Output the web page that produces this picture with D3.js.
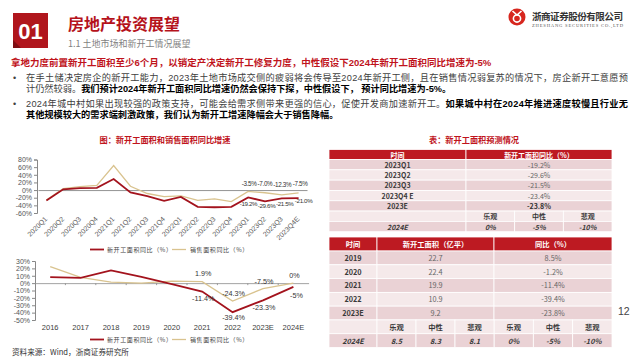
<!DOCTYPE html>
<html><head><meta charset="utf-8">
<script src="https://cdnjs.cloudflare.com/ajax/libs/d3/7.8.5/d3.min.js"></script>
<style>
html,body{margin:0;padding:0;background:#fff;}
svg{display:block;font-family:"Noto Sans CJK SC","Noto Sans",sans-serif;}
</style></head>
<body><svg id="c" width="640" height="360"></svg>
<script>
// ---------- data ----------
const quarters = ["2020Q1","2020Q2","2020Q3","2020Q4","2021Q1","2021Q2","2021Q3","2021Q4","2022Q1","2022Q2","2022Q3","2022Q4","2023Q1","2023Q2","2023Q3","2023Q4E"];
const qStarts = [-27.2,2,5,6,29,-6,-16,-28,-18,-44,-45,-44,-19.2,-29.6,-21.5,-21.0];
const qSales  = [-26.3,4,9,12,64,10,-9,-17,-15,-27,-23,-30,-3.5,-7.0,-12.3,-7.5];
const qTicks = [-60,-40,-20,0,20,40,60,80];

const years = ["2016","2017","2018","2019","2020","2021","2022","2023E","2024E"];
const yStarts = [8.1,7.0,17.2,8.5,-1.2,-11.4,-39.4,-23.3,-5];
const ySales  = [22.5,7.7,1.3,-0.1,2.6,1.9,-24.3,-7.5,0];
const yTicks = [-50,-40,-30,-20,-10,0,10,20,30];

const seriesNames = ["新开工面积同比（%）","销售面积同比（%）"];

const t1Times = ["2023Q1","2023Q2","2023Q3","2023Q4 E","2023E"];
const t1Values = ["-19.2%","-29.6%","-21.5%","-23.4%","-23.8%"];
const scenarios = ["乐观","中性","悲观"];
const t1Forecast = ["0%","-5%","-10%"];

const t2Years = ["2019","2020","2021","2022","2023E"];
const t2Area = ["22.7","22.4","19.9","10.9","9.2"];
const t2Yoy = ["8.5%","-1.2%","-11.4%","-39.4%","-23.8%"];
const t2AreaForecast = ["8.5","8.3","8.1"];
const t2YoyForecast = ["0%","-5%","-10%"];

// ---------- styles ----------
const DARKRED = "#a3131d", TAN = "#d9c38f";
const HDR = "#bd1a22", PINK1 = "#ead2d5", PINK2 = "#f5e9ea";
const NUM = "'Liberation Sans',Arial,sans-serif";
const MIX = "'Liberation Sans','Noto Sans CJK SC',sans-serif";
const svg = d3.select("#c");

// ---------- header ----------
svg.append("rect").attr("x",13).attr("y",13).attr("width",35).attr("height",35).attr("fill","#b0161d");
svg.append("path").attr("d","M13,40 L13,48 L21,48 Z").attr("fill","#7f0d12");
svg.append("text").attr("x",30.5).attr("y",38.5).attr("text-anchor","middle").attr("fill","#fff")
  .attr("font-family",NUM).attr("font-weight","bold").attr("font-size",22).text("01");
svg.append("text").attr("x",68).attr("y",30).attr("fill","#b5121b").attr("font-weight","bold").attr("font-size",16).text("房地产投资展望");
svg.append("text").attr("x",68).attr("y",46.5).attr("fill","#7f7f7f").attr("font-size",9).text("1.1  土地市场和新开工情况展望");

// logo
svg.append("circle").attr("cx",517).attr("cy",17).attr("r",8.5).attr("fill","#d7261e");
svg.append("circle").attr("cx",517).attr("cy",18.5).attr("r",3.6).attr("fill","none").attr("stroke","#fff").attr("stroke-width",1.6);
svg.append("path").attr("d","M512.5,11 L517,15 L521.5,11").attr("fill","none").attr("stroke","#fff").attr("stroke-width",1.6);
svg.append("text").attr("x",532).attr("y",20).attr("fill","#333").attr("font-weight","bold").attr("font-size",9.6).attr("textLength",91).text("浙商证券股份有限公司");
svg.append("text").attr("x",532).attr("y",27).attr("fill","#555").attr("font-family","'Liberation Serif',serif").attr("font-size",4.6).attr("textLength",91).text("ZHESHANG SECURITIES CO.,LTD");

// headline + bullets
svg.append("text").attr("x",11).attr("y",65.5).attr("fill","#c0141c").attr("font-family",MIX).attr("font-weight","bold").attr("font-size",9.5)
  .text("拿地力度前置新开工面积至少6个月，以销定产决定新开工修复力度，中性假设下2024年新开工面积同比增速为-5%");

const bullets = [
  {y:80.5, just:true, parts:[["在手土储决定房企的新开工能力，2023年土地市场成交侧的疲弱将会传导至2024年新开工侧，且在销售情况弱复苏的情况下，房企新开工意愿预",false]]},
  {y:91.5, just:false, parts:[["计仍然较弱。",false],["我们预计2024年新开工面积同比增速仍然会保持下探，中性假设下， 预计同比增速为-5%。",true]]},
  {y:107, just:true, parts:[["2024年城中村如果出现较强的政策支持，可能会给需求侧带来更强的信心，促使开发商加速新开工。",false],["如果城中村在2024年推进速度较慢且行业无",true]]},
  {y:118, just:false, parts:[["其他规模较大的需求端刺激政策，我们认为新开工增速降幅会大于销售降幅。",true]]}
];
[80.5,107].forEach(y=>svg.append("text").attr("x",13).attr("y",y).attr("font-family",NUM).attr("font-size",9).attr("fill","#404040").text("•"));
bullets.forEach(b=>{
  const nodes = b.parts.map(p=>svg.append("text").attr("y",b.y).attr("font-family",MIX).attr("font-size",9.2)
      .attr("fill",p[1]?"#000":"#404040").attr("font-weight",p[1]?"bold":"normal").text(p[0]));
  const widths = nodes.map(n=>n.node().getComputedTextLength());
  const nChars = b.parts.reduce((a,p)=>a+p[0].length,0);
  const total = d3.sum(widths);
  const ls = b.just ? (602-total)/(nChars-1) : 0;
  let x = 26;
  nodes.forEach((n,k)=>{
    n.attr("x",x).attr("letter-spacing",ls);
    x += widths[k] + ls*b.parts[k][0].length;
  });
});

// ---------- top chart ----------
svg.append("text").attr("x",165).attr("y",143).attr("text-anchor","middle").attr("fill","#c0141c")
  .attr("font-weight","bold").attr("font-size",8.2).text("图：新开工面积和销售面积同比增速");

const xq = d3.scaleBand().domain(quarters).range([38,307]);
const yq = d3.scaleLinear().domain([-60,80]).range([213,159.5]);
const cq = d => xq(d)+xq.bandwidth()/2;

const gy1 = svg.append("g").attr("transform","translate(37,0)")
  .call(d3.axisLeft(yq).tickValues(qTicks).tickSize(3).tickFormat(d=>d+"%"));
gy1.select(".domain").attr("stroke","#888");
gy1.selectAll(".tick line").attr("stroke","#888");
gy1.selectAll("text").attr("font-family",NUM).attr("font-size",7).attr("fill","#555").attr("dx",1);

const gx1 = svg.append("g").attr("transform",`translate(0,${yq(0)})`)
  .call(d3.axisBottom(xq).tickSize(0).tickFormat(""));
gx1.select(".domain").attr("stroke","#777").attr("stroke-width",0.8);
svg.append("g").selectAll("text").data(quarters).join("text")
  .attr("transform",d=>`translate(${cq(d)-1},217) rotate(-45)`)
  .attr("text-anchor","end").attr("dy","0.5em").attr("font-family",NUM).attr("font-size",7).attr("fill","#595959").text(d=>d);

const lineQ = arr => d3.line().x((d,i)=>cq(quarters[i])).y(d=>yq(d))(arr);
svg.append("path").attr("d",lineQ(qSales)).attr("fill","none").attr("stroke",TAN).attr("stroke-width",1.3);
svg.append("path").attr("d",lineQ(qStarts)).attr("fill","none").attr("stroke",DARKRED).attr("stroke-width",1.8);

const lblIdx = [12,13,14,15];
const topDx = [1,0,0.5,1.5], topDy = [5.2,6.5,8,6.8];
const botDx = [0.3,1.6,3,5], botDy = [9,7,8,5];
svg.append("g").selectAll("text").data(lblIdx).join("text")
  .attr("x",(i,k)=>cq(quarters[i])+topDx[k]).attr("y",(i,k)=>yq(qSales[i])-topDy[k]).attr("text-anchor","middle")
  .attr("font-family",NUM).attr("font-size",6.3).attr("letter-spacing",-0.35).attr("fill","#333").text(i=>qSales[i].toFixed(1)+"%");
svg.append("g").selectAll("text").data(lblIdx).join("text")
  .attr("x",(i,k)=>cq(quarters[i])+botDx[k]).attr("y",(i,k)=>yq(qStarts[i])+botDy[k]).attr("text-anchor","middle")
  .attr("font-family",NUM).attr("font-size",6.2).attr("letter-spacing",-0.35).attr("fill","#333").text(i=>qStarts[i].toFixed(1)+"%");

// legends
function legend(y){
  const g = svg.append("g");
  g.append("line").attr("x1",90).attr("x2",104).attr("y1",y).attr("y2",y).attr("stroke",DARKRED).attr("stroke-width",1.8);
  g.append("text").attr("x",107).attr("y",y+2.2).attr("font-size",6).attr("letter-spacing",0.6).attr("fill","#444").text(seriesNames[0]);
  g.append("line").attr("x1",172).attr("x2",186).attr("y1",y).attr("y2",y).attr("stroke",TAN).attr("stroke-width",1.3);
  g.append("text").attr("x",190).attr("y",y+2.2).attr("font-size",6).attr("letter-spacing",0.6).attr("fill","#444").text(seriesNames[1]);
}
legend(249.5);

// ---------- bottom chart ----------
const xy = d3.scaleBand().domain(years).range([35,308.6]);
const yy = d3.scaleLinear().domain([-50,30]).range([320,261]);
const cy = d => xy(d)+xy.bandwidth()/2;

const gy2 = svg.append("g").attr("transform","translate(35,0)")
  .call(d3.axisLeft(yy).tickValues(yTicks).tickSize(3).tickFormat(d=>d+"%"));
gy2.select(".domain").attr("stroke","#888");
gy2.selectAll(".tick line").attr("stroke","#888");
gy2.selectAll("text").attr("font-family",NUM).attr("font-size",7).attr("fill","#555").attr("dx",1);

const gx2 = svg.append("g").attr("transform",`translate(0,${yy(0)})`)
  .call(d3.axisBottom(xy).tickSize(0).tickFormat(""));
gx2.select(".domain").attr("stroke","#999").attr("stroke-width",0.9);
svg.append("g").selectAll("line").data(years.slice(1)).join("line")
  .attr("x1",d=>xy(d)).attr("x2",d=>xy(d)).attr("y1",yy(0)).attr("y2",yy(0)+2).attr("stroke","#999");
svg.append("g").selectAll("text").data(years).join("text")
  .attr("x",d=>cy(d)).attr("y",330).attr("text-anchor","middle").attr("font-family",NUM)
  .attr("font-size",7.5).attr("fill","#404040").text(d=>d);

const lineY = arr => d3.line().x((d,i)=>cy(years[i])).y(d=>yy(d))(arr);
svg.append("path").attr("d",lineY(ySales)).attr("fill","none").attr("stroke",TAN).attr("stroke-width",1.3);
svg.append("path").attr("d",lineY(yStarts)).attr("fill","none").attr("stroke",DARKRED).attr("stroke-width",1.8);

const fmt = v => (Number.isInteger(v)?v:v.toFixed(1))+"%";
const bSalesIdx = [5,6,7,8];
svg.append("g").selectAll("text").data(bSalesIdx).join("text")
  .attr("x",i=>cy(years[i])+1).attr("y",i=>yy(ySales[i])-(i===5?5.5:5))
  .attr("text-anchor","middle").attr("font-family",NUM).attr("font-size",7.2).attr("fill","#333").text(i=>fmt(ySales[i]));
svg.append("g").selectAll("text").data(bSalesIdx).join("text")
  .attr("x",i=>cy(years[i])+(i===8?3:1)).attr("y",i=>yy(yStarts[i])+(i===8?11:(i===6?8.3:9.5)))
  .attr("text-anchor","middle").attr("font-family",NUM).attr("font-size",7.2).attr("fill","#333").text(i=>fmt(yStarts[i]));

legend(339.5);

svg.append("text").attr("x",12).attr("y",355).attr("font-size",7.6).attr("fill","#333").text("资料来源：Wind，浙商证券研究所");

// ---------- tables ----------
svg.append("text").attr("x",474).attr("y",143).attr("text-anchor","middle").attr("fill","#c0141c")
  .attr("font-weight","bold").attr("font-size",8.2).text("表：新开工面积预测情况");

function cell(x,y,w,h,fill){
  svg.append("rect").attr("x",x).attr("y",y).attr("width",w).attr("height",h).attr("fill",fill).attr("stroke","#fff").attr("stroke-width",0.8);
}
function txt(x,y,s,o){
  o=o||{};
  svg.append("text").attr("x",x).attr("y",y).attr("text-anchor","middle").attr("dominant-baseline","central")
    .attr("font-size",o.size||7).attr("fill",o.fill||"#555").attr("font-weight",o.bold?"bold":"normal")
    .attr("font-style",o.italic?"italic":"normal").text(s);
}

// table 1
const T1 = {x0:329,x1:466,x2:612,top:149.5,hh:10};
const r1 = d3.scaleBand().domain(d3.range(7)).range([T1.top+T1.hh,231.7]);
cell(T1.x0,T1.top,T1.x1-T1.x0,T1.hh,HDR); cell(T1.x1,T1.top,T1.x2-T1.x1,T1.hh,HDR);
txt((T1.x0+T1.x1)/2,T1.top+T1.hh/2,"时间",{fill:"#fff",bold:true});
txt((T1.x1+T1.x2)/2,T1.top+T1.hh/2,"新开工面积同比（%）",{fill:"#fff",bold:true});
const sub1 = d3.scaleBand().domain(scenarios).range([T1.x1,T1.x2]);
d3.range(7).forEach(i=>{
  const fill = i%2===0?PINK1:PINK2, y=r1(i), h=r1.bandwidth(), c=y+h/2;
  cell(T1.x0,y,T1.x1-T1.x0,h,fill);
  if(i<5){
    cell(T1.x1,y,T1.x2-T1.x1,h,fill);
    txt((T1.x0+T1.x1)/2,c,t1Times[i],{bold:true,fill:"#3a3a3a"});
    txt((T1.x1+T1.x2)/2,c,t1Values[i],{bold:i===4,fill:i===4?"#333":"#666"});
  } else {
    scenarios.forEach(s=>cell(sub1(s),y,sub1.bandwidth(),h,fill));
    if(i===5) scenarios.forEach(s=>txt(sub1(s)+sub1.bandwidth()/2,c,s,{bold:true,fill:"#3a3a3a"}));
    else {
      txt((T1.x0+T1.x1)/2,c,"2024E",{bold:true,italic:true,fill:"#3a3a3a"});
      scenarios.forEach((s,k)=>txt(sub1(s)+sub1.bandwidth()/2,c,t1Forecast[k],{bold:true,italic:true,fill:"#3a3a3a"}));
    }
  }
});

// table 2
const T2 = {x0:329,x1:377,x2:494,x3:612,top:237,hh:14};
const r2 = d3.scaleBand().domain(d3.range(7)).range([T2.top+T2.hh,347.5]);
cell(T2.x0,T2.top,T2.x1-T2.x0,T2.hh,HDR); cell(T2.x1,T2.top,T2.x2-T2.x1,T2.hh,HDR); cell(T2.x2,T2.top,T2.x3-T2.x2,T2.hh,HDR);
txt((T2.x0+T2.x1)/2,T2.top+T2.hh/2,"时间",{fill:"#fff",bold:true,size:7.3});
txt((T2.x1+T2.x2)/2,T2.top+T2.hh/2,"新开工面积（亿平）",{fill:"#fff",bold:true,size:7.3});
txt((T2.x2+T2.x3)/2,T2.top+T2.hh/2,"同比（%）",{fill:"#fff",bold:true,size:7.3});
const sub2a = d3.scaleBand().domain(scenarios).range([T2.x1,T2.x2]);
const sub2b = d3.scaleBand().domain(scenarios).range([T2.x2,T2.x3]);
d3.range(7).forEach(i=>{
  const fill = i%2===0?PINK1:PINK2, y=r2(i), h=r2.bandwidth(), c=y+h/2;
  cell(T2.x0,y,T2.x1-T2.x0,h,fill);
  if(i<5){
    cell(T2.x1,y,T2.x2-T2.x1,h,fill); cell(T2.x2,y,T2.x3-T2.x2,h,fill);
    txt((T2.x0+T2.x1)/2,c,t2Years[i],{bold:true,fill:"#3a3a3a",size:7.3});
    txt((T2.x1+T2.x2)/2,c,t2Area[i],{fill:"#666",size:7.3});
    txt((T2.x2+T2.x3)/2,c,t2Yoy[i],{fill:"#666",size:7.3});
  } else {
    scenarios.forEach(s=>{cell(sub2a(s),y,sub2a.bandwidth(),h,fill);cell(sub2b(s),y,sub2b.bandwidth(),h,fill);});
    if(i===5){
      scenarios.forEach(s=>{txt(sub2a(s)+sub2a.bandwidth()/2,c,s,{bold:true,fill:"#3a3a3a",size:7.3});
                            txt(sub2b(s)+sub2b.bandwidth()/2,c,s,{bold:true,fill:"#3a3a3a",size:7.3});});
    } else {
      txt((T2.x0+T2.x1)/2,c,"2024E",{bold:true,italic:true,fill:"#3a3a3a",size:7.3});
      scenarios.forEach((s,k)=>{txt(sub2a(s)+sub2a.bandwidth()/2,c,t2AreaForecast[k],{bold:true,italic:true,fill:"#3a3a3a",size:7.3});
                                txt(sub2b(s)+sub2b.bandwidth()/2,c,t2YoyForecast[k],{bold:true,italic:true,fill:"#3a3a3a",size:7.3});});
    }
  }
});

svg.append("text").attr("x",618).attr("y",315).attr("font-family",NUM).attr("font-size",10.5).attr("fill","#444").text("12");
</script></body></html>
